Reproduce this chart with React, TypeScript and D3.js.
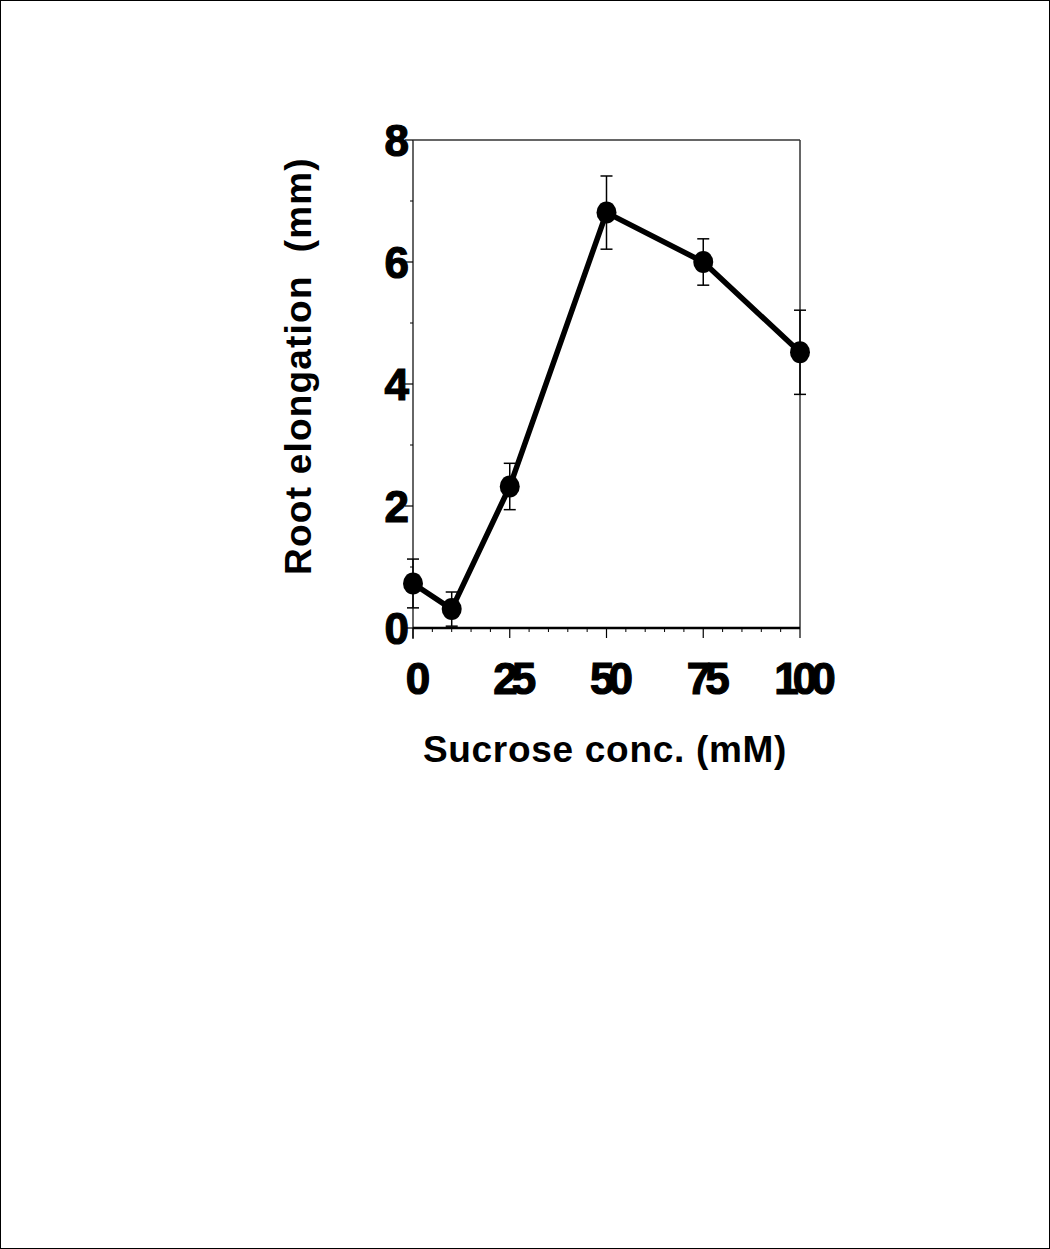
import React from "react";
import * as d3 from "d3";

const sucrose = [0, 10, 25, 50, 75, 100];
const elongation = [0.73, 0.31, 2.32, 6.81, 6.0, 4.52];
const errors = [0.4, 0.28, 0.38, 0.6, 0.38, 0.69];
const xTicks = [0, 25, 50, 75, 100];
const yTicks = [0, 2, 4, 6, 8];
const xLabel = "Sucrose conc. (mM)";
const yLabel = "Root elongation  (mm)";

const W = 1050;
const H = 1249;
const left = 413, right = 800, top = 140, bottom = 628;

export default function App() {
  const x = d3.scaleLinear().domain([0, 100]).range([left, right]);
  const y = d3.scaleLinear().domain([0, 8]).range([bottom, top]);
  const line = d3.line<number>().x((_, i) => x(sucrose[i])).y((d) => y(d));
  const minorX = d3.range(0, 101, 5).filter((v) => !xTicks.includes(v));
  const minorY = [1, 3, 5, 7];
  const font = "'Liberation Sans', Arial, sans-serif";
  return (
    <svg width={W} height={H} style={{ position: "absolute", left: 0, top: 0, background: "#fff" }}>
      <rect x={0.5} y={0.5} width={W - 1} height={H - 1} fill="#fff" stroke="#000" strokeWidth={1} />
      {/* frame */}
      <line x1={left} x2={right} y1={top} y2={top} stroke="#333" strokeWidth={1.5} />
      <line x1={right} x2={right} y1={top} y2={bottom} stroke="#333" strokeWidth={1.5} />
      <line x1={left} x2={left} y1={top} y2={bottom + 11} stroke="#333" strokeWidth={1.5} />
      <line x1={left} x2={right} y1={bottom} y2={bottom} stroke="#000" strokeWidth={2.5} />
      {/* y ticks */}
      {yTicks.map((t) => (
        <g key={"yt" + t}>
          <line x1={left - 8} x2={left} y1={y(t)} y2={y(t)} stroke="#000" strokeWidth={1.2} />
          <text x={left - 9} y={y(t)} dy="0.36em" textAnchor="end" fontFamily={font} fontWeight="bold"
            fontSize={44} stroke="#000" strokeWidth={1.2} letterSpacing={-5}>{t}</text>
        </g>
      ))}
      {minorY.map((t) => (
        <line key={"ym" + t} x1={left - 3} x2={left} y1={y(t)} y2={y(t)} stroke="#000" strokeWidth={1} />
      ))}
      {/* x ticks */}
      {xTicks.map((t) => (
        <g key={"xt" + t}>
          <line x1={x(t)} x2={x(t)} y1={bottom} y2={bottom + 10} stroke="#000" strokeWidth={1.2} />
          <text x={x(t) + 2} y={694} textAnchor="middle" fontFamily={font} fontWeight="bold"
            fontSize={44} stroke="#000" strokeWidth={1.2} letterSpacing={-6}>{t}</text>
        </g>
      ))}
      {minorX.map((t) => (
        <line key={"xm" + t} x1={x(t)} x2={x(t)} y1={bottom} y2={bottom + 4} stroke="#000" strokeWidth={1} />
      ))}
      {/* error bars */}
      {sucrose.map((s, i) => (
        <g key={"e" + i} stroke="#000" strokeWidth={1.5}>
          <line x1={x(s)} x2={x(s)} y1={y(elongation[i] + errors[i])} y2={y(elongation[i] - errors[i])} />
          <line x1={x(s) - 6} x2={x(s) + 6} y1={y(elongation[i] + errors[i])} y2={y(elongation[i] + errors[i])} />
          <line x1={x(s) - 6} x2={x(s) + 6} y1={y(elongation[i] - errors[i])} y2={y(elongation[i] - errors[i])} />
        </g>
      ))}
      <path d={line(elongation) || ""} fill="none" stroke="#000" strokeWidth={5.5} strokeLinejoin="round" />
      {sucrose.map((s, i) => (
        <ellipse key={"p" + i} cx={x(s)} cy={y(elongation[i])} rx={10} ry={11} fill="#000" />
      ))}
      <text x={605} y={762} textAnchor="middle" fontFamily={font} fontWeight="bold" fontSize={37}
        letterSpacing={0.7}>{xLabel}</text>
      <text transform={`translate(311,366) rotate(-90)`} textAnchor="middle" fontFamily={font}
        fontWeight="bold" fontSize={37} letterSpacing={1.2} style={{ whiteSpace: "pre" }}>{yLabel}</text>
    </svg>
  );
}
